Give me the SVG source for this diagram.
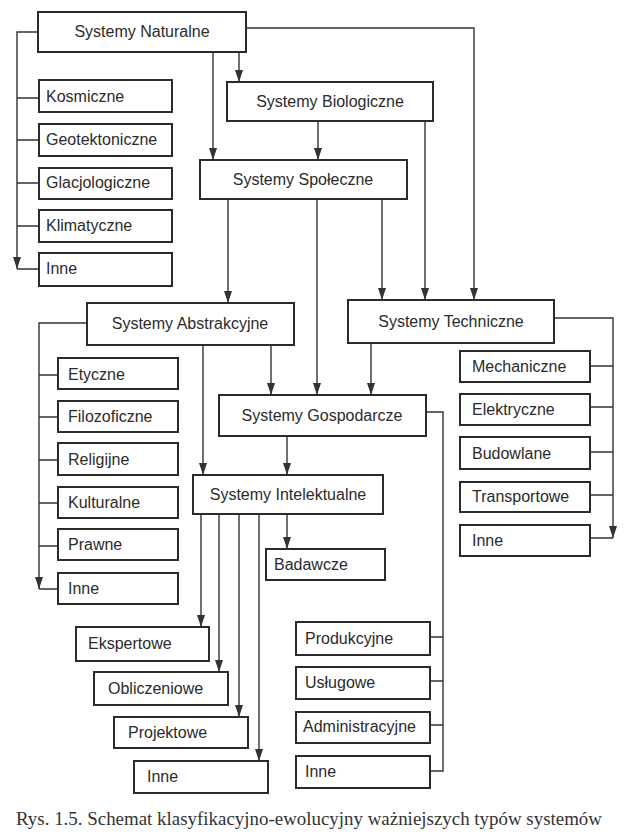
<svg xmlns="http://www.w3.org/2000/svg" width="627" height="839" viewBox="0 0 627 839">
<style>
.box{fill:#fff;stroke:#2b2b2b;stroke-width:2}
.t{font-family:"Liberation Sans",Arial,sans-serif;font-size:16px;fill:#2b2b2b}
.m{text-anchor:middle}
.c{fill:none;stroke:#333;stroke-width:1.4}
.cap{font-family:"Liberation Serif","Times New Roman",serif;font-size:19px;fill:#333}
</style>
<defs>
<marker id="a" markerUnits="userSpaceOnUse" markerWidth="12" markerHeight="8" refX="12" refY="4" orient="auto" viewBox="0 0 12 8">
<path d="M0,0 L12,4 L0,8 Z" fill="#333"/>
</marker>
</defs>
<rect width="627" height="839" fill="#fff"/>
<g id="connectors">
<path class="c" d="M38,32 H17 V269" marker-end="url(#a)"/>
<path class="c" d="M17,269 H39 M17,98 H39 M17,140 H39 M17,183 H39 M17,226 H39"/>
<path class="c" d="M213,52 V160" marker-end="url(#a)"/>
<path class="c" d="M239,52 V82" marker-end="url(#a)"/>
<path class="c" d="M246,28 H474 V300" marker-end="url(#a)"/>
<path class="c" d="M318,121 V160" marker-end="url(#a)"/>
<path class="c" d="M425,121 V300" marker-end="url(#a)"/>
<path class="c" d="M382,199 V300" marker-end="url(#a)"/>
<path class="c" d="M228,199 V303" marker-end="url(#a)"/>
<path class="c" d="M317,199 V395" marker-end="url(#a)"/>
<path class="c" d="M271,345 V395" marker-end="url(#a)"/>
<path class="c" d="M371,343 V395" marker-end="url(#a)"/>
<path class="c" d="M203,345 V475" marker-end="url(#a)"/>
<path class="c" d="M287,436 V475" marker-end="url(#a)"/>
<path class="c" d="M287,514 V549" marker-end="url(#a)"/>
<path class="c" d="M87,323 H39 V589" marker-end="url(#a)"/>
<path class="c" d="M39,589 H58 M39,375 H58 M39,417 H58 M39,460 H58 M39,503 H58 M39,546 H58"/>
<path class="c" d="M554,318 H613 V538" marker-end="url(#a)"/>
<path class="c" d="M613,538 H590 M613,366 H590 M613,407 H590 M613,452 H590 M613,495 H590"/>
<path class="c" d="M426,412 H443 V771 H430 M443,637 H430 M443,681 H430 M443,725 H430"/>
<path class="c" d="M201,514 V627" marker-end="url(#a)"/>
<path class="c" d="M219,514 V672" marker-end="url(#a)"/>
<path class="c" d="M239,514 V717" marker-end="url(#a)"/>
<path class="c" d="M259,514 V761" marker-end="url(#a)"/>
</g>
<g id="naturalne"><rect class="box" x="38" y="12" width="208" height="40"/><text class="t m" x="142" y="37">Systemy Naturalne</text></g>
<g id="biologiczne"><rect class="box" x="227" y="82" width="206" height="39"/><text class="t m" x="330" y="107">Systemy Biologiczne</text></g>
<g id="spoleczne"><rect class="box" x="200" y="160" width="207" height="39"/><text class="t m" x="303" y="185">Systemy Społeczne</text></g>
<g id="abstrakcyjne"><rect class="box" x="87" y="303" width="207" height="42"/><text class="t m" x="190" y="329">Systemy Abstrakcyjne</text></g>
<g id="techniczne"><rect class="box" x="348" y="300" width="206" height="43"/><text class="t m" x="451" y="327">Systemy Techniczne</text></g>
<g id="gospodarcze"><rect class="box" x="219" y="395" width="207" height="41"/><text class="t m" x="322" y="421">Systemy Gospodarcze</text></g>
<g id="intelektualne"><rect class="box" x="193" y="475" width="190" height="39"/><text class="t m" x="288" y="500">Systemy Intelektualne</text></g>

<g id="kosmiczne"><rect class="box" x="39" y="80" width="133" height="32"/><text class="t" x="46" y="102">Kosmiczne</text></g>
<g id="geotektoniczne"><rect class="box" x="39" y="124" width="133" height="32"/><text class="t" x="46" y="145">Geotektoniczne</text></g>
<g id="glacjologiczne"><rect class="box" x="39" y="168" width="133" height="31"/><text class="t" x="46" y="188">Glacjologiczne</text></g>
<g id="klimatyczne"><rect class="box" x="39" y="210" width="133" height="32"/><text class="t" x="46" y="231">Klimatyczne</text></g>
<g id="inne-nat"><rect class="box" x="39" y="253" width="133" height="33"/><text class="t" x="46" y="274">Inne</text></g>

<g id="etyczne"><rect class="box" x="58" y="358" width="120" height="31"/><text class="t" x="68" y="380">Etyczne</text></g>
<g id="filozoficzne"><rect class="box" x="58" y="401" width="120" height="31"/><text class="t" x="68" y="422">Filozoficzne</text></g>
<g id="religijne"><rect class="box" x="58" y="443" width="120" height="32"/><text class="t" x="68" y="465">Religijne</text></g>
<g id="kulturalne"><rect class="box" x="58" y="487" width="120" height="31"/><text class="t" x="68" y="508">Kulturalne</text></g>
<g id="prawne"><rect class="box" x="58" y="529" width="120" height="31"/><text class="t" x="68" y="550">Prawne</text></g>
<g id="inne-abs"><rect class="box" x="58" y="573" width="120" height="31"/><text class="t" x="68" y="594">Inne</text></g>

<g id="mechaniczne"><rect class="box" x="460" y="351" width="130" height="31"/><text class="t" x="472" y="372">Mechaniczne</text></g>
<g id="elektryczne"><rect class="box" x="460" y="394" width="130" height="31"/><text class="t" x="472" y="415">Elektryczne</text></g>
<g id="budowlane"><rect class="box" x="460" y="437" width="130" height="32"/><text class="t" x="472" y="459">Budowlane</text></g>
<g id="transportowe"><rect class="box" x="460" y="482" width="130" height="30"/><text class="t" x="472" y="502">Transportowe</text></g>
<g id="inne-tech"><rect class="box" x="460" y="525" width="130" height="31"/><text class="t" x="472" y="546">Inne</text></g>

<g id="produkcyjne"><rect class="box" x="296" y="622" width="134" height="33"/><text class="t" x="305" y="644">Produkcyjne</text></g>
<g id="uslugowe"><rect class="box" x="296" y="667" width="134" height="32"/><text class="t" x="305" y="688">Usługowe</text></g>
<g id="administracyjne"><rect class="box" x="296" y="712" width="134" height="31"/><text class="t" x="303" y="732">Administracyjne</text></g>
<g id="inne-gosp"><rect class="box" x="296" y="756" width="134" height="32"/><text class="t" x="305" y="777">Inne</text></g>

<g id="badawcze"><rect class="box" x="266" y="549" width="119" height="31"/><text class="t" x="274" y="570">Badawcze</text></g>
<g id="ekspertowe"><rect class="box" x="76" y="627" width="133" height="34"/><text class="t" x="88" y="649">Ekspertowe</text></g>
<g id="obliczeniowe"><rect class="box" x="94" y="672" width="134" height="33"/><text class="t" x="108" y="694">Obliczeniowe</text></g>
<g id="projektowe"><rect class="box" x="114" y="717" width="134" height="31"/><text class="t" x="128" y="738">Projektowe</text></g>
<g id="inne-int"><rect class="box" x="134" y="761" width="134" height="32"/><text class="t" x="147" y="782">Inne</text></g>

<text class="cap" x="16" y="825" textLength="586" lengthAdjust="spacingAndGlyphs">Rys. 1.5. Schemat klasyfikacyjno-ewolucyjny ważniejszych typów systemów</text>
</svg>
